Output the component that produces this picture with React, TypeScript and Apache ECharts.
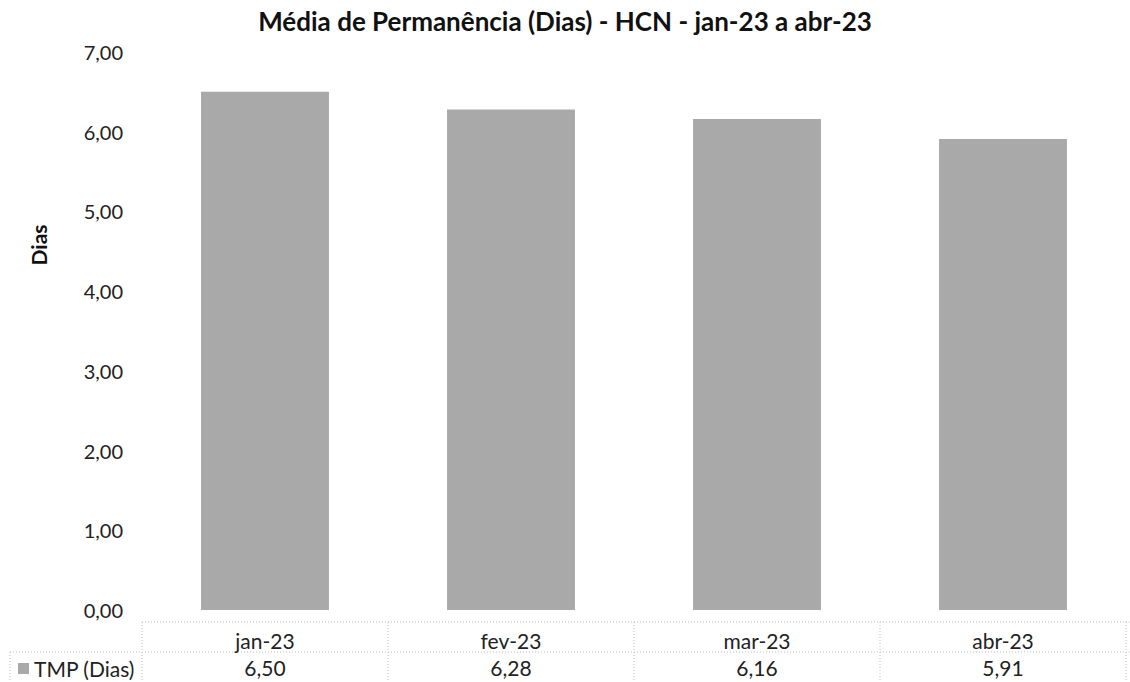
import React, { useEffect, useRef } from "react";
import * as echarts from "echarts";

const categories = ["jan-23", "fev-23", "mar-23", "abr-23"];
const tmpValues = [6.5, 6.28, 6.16, 5.91];
const yTicks = [0, 1, 2, 3, 4, 5, 6, 7];
const seriesName = "TMP (Dias)";
const titleText = "Média de Permanência (Dias) - HCN - jan-23 a abr-23";

const fmt = (v: number) => v.toFixed(2).replace(".", ",");

const W = 1130;
const H = 682;
const GL = 142;
const GR = 4;
const GT = 52;
const GB = 72;
const FONT = "Lato, 'Open Sans', sans-serif";

export default function App() {
  const ref = useRef<HTMLDivElement>(null);
  useEffect(() => {
    if (!ref.current) return;
    const chart = echarts.init(ref.current, undefined, { renderer: "svg" });
    const plotW = W - GL - GR;
    const band = plotW / categories.length;
    const rowTop = 622;
    const rowMid = 652;
    const rowBot = 681;
    const lineStyle = { stroke: "#bdbdbd", lineWidth: 1, lineDash: [1, 2] };
    const lines: any[] = [
      { type: "line", shape: { x1: GL, y1: rowTop, x2: W, y2: rowTop }, style: lineStyle },
      { type: "line", shape: { x1: 10, y1: rowMid, x2: W, y2: rowMid }, style: lineStyle },
      { type: "line", shape: { x1: 10, y1: rowMid, x2: 10, y2: rowBot }, style: lineStyle },
    ];
    for (let i = 0; i <= categories.length; i++) {
      const x = GL + band * i;
      lines.push({ type: "line", shape: { x1: x, y1: rowTop, x2: x, y2: rowBot }, style: lineStyle });
    }
    chart.setOption({
      animation: false,
      backgroundColor: "#ffffff",
      textStyle: { fontFamily: FONT },
      title: {
        text: titleText,
        left: "center",
        top: 3,
        textStyle: { fontFamily: FONT, fontSize: 26, fontWeight: "bold", color: "#111" },
      },
      legend: {
        data: [seriesName],
        left: 18,
        top: 658,
        padding: 0,
        itemWidth: 11,
        itemHeight: 11,
        itemGap: 7,
        icon: "rect",
        textStyle: { fontFamily: FONT, fontSize: 21, color: "#222", lineHeight: 21 },
      },
      grid: { left: GL, right: GR, top: GT, bottom: GB, containLabel: false },
      xAxis: {
        type: "category",
        data: categories,
        axisLine: { show: false },
        axisTick: { show: false },
        axisLabel: {
          margin: 17,
          fontFamily: FONT,
          fontSize: 21,
          color: "#222",
          lineHeight: 27,
          formatter: (v: string, i: number) => `${v}\n${fmt(tmpValues[i])}`,
        },
      },
      yAxis: {
        type: "value",
        min: yTicks[0],
        max: yTicks[yTicks.length - 1],
        interval: 1,
        axisLine: { show: false },
        axisTick: { show: false },
        splitLine: { show: false },
        axisLabel: {
          margin: 19,
          fontFamily: FONT,
          fontSize: 20,
          color: "#222",
          formatter: (v: number) => fmt(v),
        },
      },
      graphic: [
        {
          type: "text",
          x: 38,
          y: 245,
          rotation: Math.PI / 2,
          style: {
            text: "Dias",
            fontFamily: FONT,
            fontSize: 21,
            fontWeight: "bold",
            fill: "#111",
            align: "center",
            verticalAlign: "middle",
          },
        },
        ...lines,
      ],
      series: [
        {
          name: seriesName,
          type: "bar",
          data: tmpValues,
          barCategoryGap: "48%",
          itemStyle: { color: "#a9a9a9" },
        },
      ],
    });
    return () => chart.dispose();
  }, []);
  return <div ref={ref} style={{ width: W, height: H, position: "absolute", left: 0, top: 0 }} />;
}
